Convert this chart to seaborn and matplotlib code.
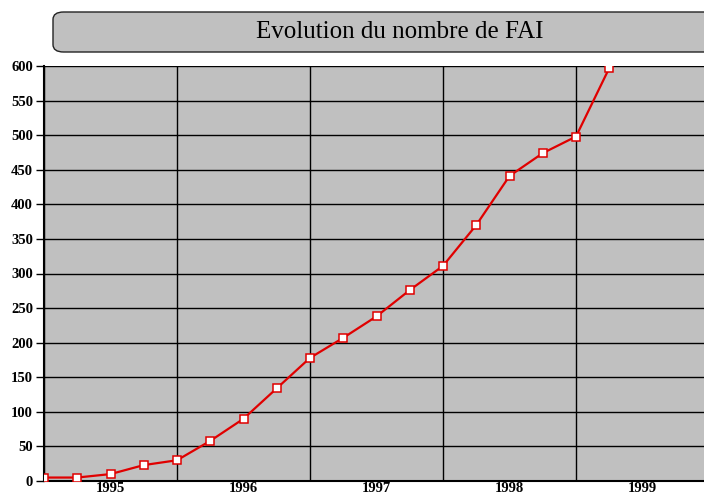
import numpy as np
import pandas as pd
import matplotlib.pyplot as plt
import seaborn as sns
from matplotlib.patches import FancyBboxPatch

# quarterly number of ISPs (FAI), 1995 Q1 -> 1999 Q2
nb_fai = [5, 5, 10, 23, 30, 58, 90, 134, 178, 207, 238, 276, 311, 370, 441, 474, 498, 597]
years = ['1995', '1996', '1997', '1998', '1999']
title = 'Evolution du nombre de FAI'

df = pd.DataFrame({'trimestre': np.arange(len(nb_fai)), 'fai': nb_fai})

sns.set_style('white')
plt.rcParams['font.family'] = ['Liberation Serif', 'DejaVu Serif']
plt.rcParams['text.color'] = 'black'
plt.rcParams['xtick.color'] = 'black'
plt.rcParams['ytick.color'] = 'black'

fig = plt.figure(figsize=(7.04, 4.95), dpi=100)
ax = fig.add_axes([44 / 704, 14 / 495, 665 / 704, 415 / 495])
ax.set_facecolor('#c0c0c0')

sns.lineplot(data=df, x='trimestre', y='fai', ax=ax, color='#e00000', lw=1.6,
             marker='s', markersize=5.5, markerfacecolor='white',
             markeredgecolor='#e00000', markeredgewidth=1.1, zorder=3)

ax.set_xlim(0, 4 * len(years))
ax.set_ylim(0, 600)

# horizontal grid every 50, vertical lines at year boundaries
ax.set_yticks(range(0, 601, 50))
ax.set_xticks(range(0, 4 * len(years) + 1, 4))
ax.set_xticklabels([])
ax.set_xticks([4 * i + 2 for i in range(len(years))], minor=True)
ax.set_xticklabels(years, minor=True)
ax.grid(True, color='black', lw=1.0)
ax.set_axisbelow(True)

ax.tick_params(axis='y', which='major', length=6, width=1,
               labelsize=10.5, pad=2, direction='out', left=True)
ax.tick_params(axis='x', which='both', length=0, labelsize=10.5, pad=0.5)
for lab in ax.get_yticklabels() + ax.get_xticklabels(minor=True):
    lab.set_fontweight('bold')

for side in ['left', 'bottom']:
    ax.spines[side].set_color('black')
    ax.spines[side].set_linewidth(1.5)
for side in ['top', 'right']:
    ax.spines[side].set_visible(False)

ax.set_xlabel('')
ax.set_ylabel('')

# rounded title box
box = FancyBboxPatch((53 / 704, (495 - 52) / 495), 700 / 704, 40 / 495,
                     boxstyle='round,pad=0,rounding_size=0.015',
                     transform=fig.transFigure, facecolor='#c0c0c0',
                     edgecolor='#222222', lw=1.0, clip_on=False)
fig.patches.append(box)
fig.text(400 / 704, (495 - 32) / 495, title, ha='center', va='center',
         fontsize=18, color='black')

fig.savefig('out.png', dpi=100)
